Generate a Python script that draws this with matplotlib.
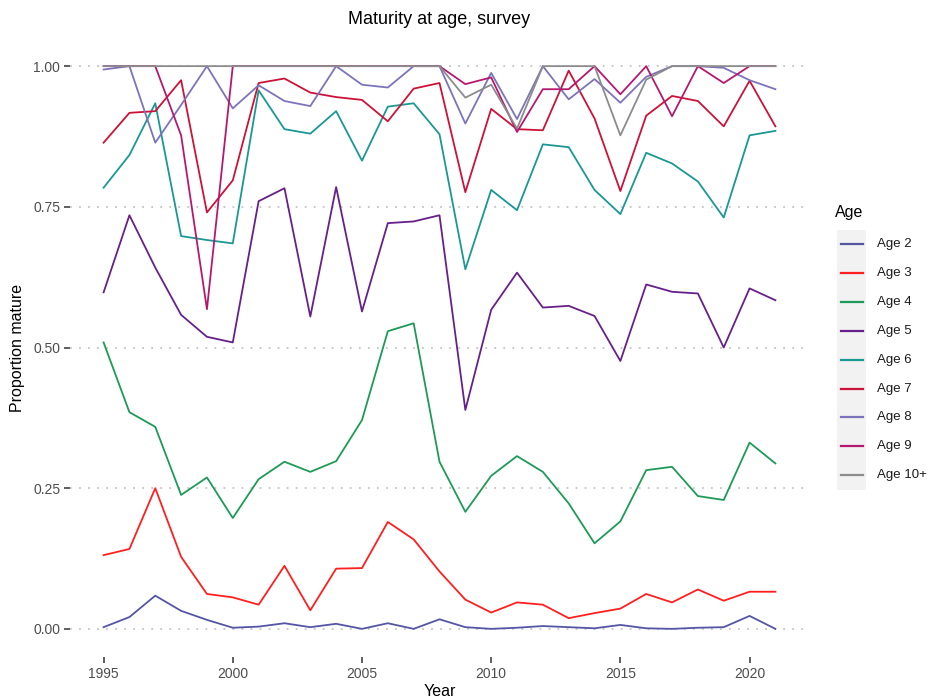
import matplotlib
matplotlib.use("Agg")
import matplotlib.pyplot as plt
from matplotlib.lines import Line2D
from matplotlib.patches import Rectangle

plt.rcParams['font.family'] = ['Liberation Sans', 'DejaVu Sans']

# Data
years = list(range(1995, 2022))

age2 = [0.003, 0.021, 0.059, 0.032, 0.016, 0.002, 0.004, 0.010, 0.003, 0.009,
        0.000, 0.010, 0.000, 0.017, 0.003, 0.000, 0.002, 0.005, 0.003, 0.001,
        0.007, 0.001, 0.000, 0.002, 0.003, 0.023, 0.000]
age3 = [0.131, 0.142, 0.250, 0.128, 0.062, 0.056, 0.043, 0.112, 0.033, 0.107,
        0.108, 0.190, 0.159, 0.102, 0.052, 0.029, 0.047, 0.043, 0.019, 0.028,
        0.036, 0.062, 0.047, 0.070, 0.050, 0.066, 0.066]
age4 = [0.509, 0.385, 0.359, 0.238, 0.269, 0.197, 0.266, 0.297, 0.279, 0.298,
        0.371, 0.529, 0.543, 0.297, 0.208, 0.272, 0.307, 0.279, 0.223, 0.152,
        0.191, 0.282, 0.288, 0.236, 0.229, 0.331, 0.294]
age5 = [0.598, 0.735, 0.642, 0.558, 0.519, 0.509, 0.760, 0.783, 0.555, 0.785,
        0.564, 0.721, 0.724, 0.735, 0.389, 0.567, 0.633, 0.571, 0.574, 0.556,
        0.476, 0.612, 0.599, 0.596, 0.500, 0.605, 0.584]
age6 = [0.784, 0.842, 0.934, 0.698, 0.691, 0.685, 0.957, 0.888, 0.880, 0.920,
        0.832, 0.928, 0.934, 0.879, 0.639, 0.780, 0.744, 0.861, 0.856, 0.780,
        0.737, 0.846, 0.827, 0.795, 0.731, 0.877, 0.885]
age7 = [0.864, 0.917, 0.920, 0.975, 0.740, 0.797, 0.970, 0.978, 0.953, 0.945,
        0.940, 0.902, 0.960, 0.970, 0.776, 0.924, 0.888, 0.886, 0.992, 0.907,
        0.778, 0.912, 0.947, 0.938, 0.893, 0.974, 0.893]
age8 = [0.994, 1.000, 0.864, 0.931, 1.000, 0.925, 0.966, 0.938, 0.929, 1.000,
        0.967, 0.962, 1.000, 1.000, 0.898, 0.988, 0.906, 1.000, 0.941, 0.977,
        0.935, 0.981, 1.000, 1.000, 0.997, 0.975, 0.959]
age9 = [1.000, 1.000, 1.000, 0.877, 0.568, 1.000, 1.000, 1.000, 1.000, 1.000,
        1.000, 1.000, 1.000, 1.000, 0.968, 0.980, 0.883, 0.959, 0.959, 1.000,
        0.950, 1.000, 0.911, 1.000, 0.970, 1.000, 1.000]
age10 = [1.000, 1.000, 1.000, 1.000, 1.000, 1.000, 1.000, 1.000, 1.000, 1.000,
         1.000, 1.000, 1.000, 1.000, 0.944, 0.967, 0.889, 1.000, 1.000, 1.000,
         0.877, 0.976, 1.000, 1.000, 1.000, 1.000, 1.000]

labels = ["Age 2", "Age 3", "Age 4", "Age 5", "Age 6", "Age 7", "Age 8", "Age 9", "Age 10+"]
colors = ["#5555A5", "#FF1F1F", "#1E9A58", "#67208A", "#1A9893",
          "#CC1238", "#7C74BA", "#B5186F", "#8C8C8C"]
series = [age2, age3, age4, age5, age6, age7, age8, age9, age10]

fig = plt.figure(figsize=(9.32, 6.98), dpi=100)
ax = fig.add_axes([70 / 932, 41 / 698, 739 / 932, 619 / 698])

# Lines, drawn in legend order so Age 10+ is on top
for vals, col, lab in zip(series, colors, labels):
    ax.plot(years, vals, color=col, lw=1.3, label=lab)

ax.set_xlim(1993.7, 2022.3)
ax.set_ylim(-0.05, 1.05)
ax.set_xticks([1995, 2000, 2005, 2010, 2015, 2020])
ax.set_yticks([0, 0.25, 0.5, 0.75, 1.0])
ax.set_yticklabels(["0.00", "0.25", "0.50", "0.75", "1.00"])

# Minimal theme with dotted horizontal gridlines
for s in ax.spines.values():
    s.set_visible(False)
ax.grid(axis="y", color="#C4C4C4", linestyle=(0, (1, 4)), lw=1.3)
ax.grid(axis="x", visible=False)
ax.set_axisbelow(True)
ax.tick_params(axis="both", length=4, width=1.1, color="#333333",
               labelsize=10, labelcolor="#4D4D4D", pad=3)

ax.set_xlabel("Year", fontsize=11.5, labelpad=2)
ax.set_ylabel("Proportion mature", fontsize=11.5, labelpad=6)
ax.set_title("Maturity at age, survey", fontsize=13, pad=10)

# Legend drawn by hand to mimic the ggplot guide
fig.text(835 / 932, 1 - 212 / 698, "Age", fontsize=11.5, va="center", ha="left")
fig.add_artist(Rectangle((837 / 932, 1 - 490 / 698), 29 / 932, 260 / 698,
                         transform=fig.transFigure, facecolor="#F2F2F2",
                         edgecolor="none"))
for i, (col, lab) in enumerate(zip(colors, labels)):
    yy = 1 - (244 + i * 28.9) / 698
    fig.add_artist(Line2D([841 / 932, 863 / 932], [yy, yy], color=col, lw=1.6,
                          transform=fig.transFigure))
    fig.text(877 / 932, yy, lab, fontsize=9.5, va="center", ha="left", color="#1A1A1A")

fig.savefig("out.png", dpi=100)
